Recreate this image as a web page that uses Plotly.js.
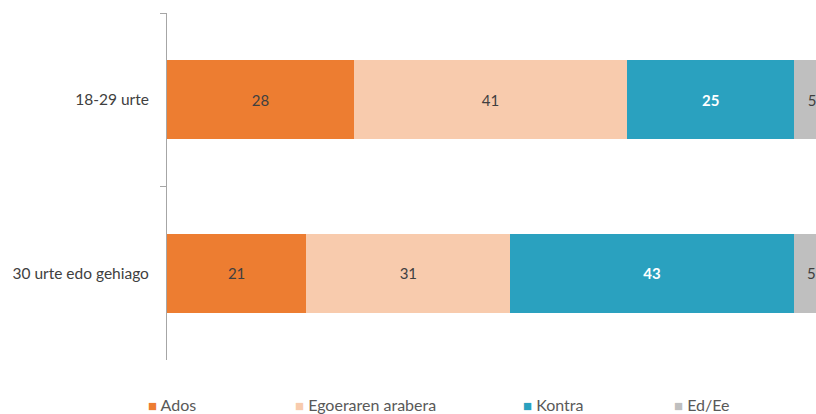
<!DOCTYPE html>
<html><head><meta charset="utf-8">
<script src="https://cdn.plot.ly/plotly-3.0.1.min.js"></script>
<style>html,body{margin:0;padding:0;background:#fff;overflow:hidden}</style>
</head><body><div id="chart" style="width:816px;height:414px"></div>
<script>
const categories = ["18-29 urte", "30 urte edo gehiago"];
const seriesNames = ["Ados", "Egoeraren arabera", "Kontra", "Ed/Ee"];
const ados = [28.2, 21.0];
const egoeraren = [41.2, 30.8];
const kontra = [25.2, 42.7];
const edee = [5.4, 5.4];

const seriesValues = [ados, egoeraren, kontra, edee];
const colors = ["#ED7D31", "#F8CBAD", "#2AA1BF", "#BFBFBF"];
const textColors = ["#404040", "#404040", "#FFFFFF", "#404040"];
const textWeights = ["normal", "normal", "bold", "normal"];
const legendIds = ["legend", "legend2", "legend3", "legend4"];
const legendX = [150, 297, 525, 676];

const FONT = "Lato, 'Open Sans', sans-serif";
const plotL = 167, plotR = 816;
const pw = plotR - plotL;

const traces = [];
seriesNames.forEach((n, i) => {
  traces.push({
    type: "bar", orientation: "h",
    x: seriesValues[i], y: categories, name: n,
    marker: {color: colors[i], line: {width: 0}},
    width: 0.455,
    texttemplate: "%{x:.0f}", textposition: "inside", insidetextanchor: "middle",
    textangle: 0, constraintext: "none",
    textfont: {family: FONT, size: 15, color: textColors[i], weight: textWeights[i]},
    showlegend: false, hoverinfo: "skip"
  });
});
seriesNames.forEach((n, i) => {
  traces.push({
    type: "scatter", mode: "markers", x: [null], y: [null],
    name: '<span style="color:' + colors[i] + ';font-size:15px">■</span> ' + n,
    marker: {opacity: 0, color: "#fff"},
    legend: legendIds[i], showlegend: true, hoverinfo: "skip"
  });
});

const layout = {
  width: 816, height: 414,
  margin: {l: plotL, r: 0, t: 13, b: 54, autoexpand: false},
  paper_bgcolor: "#fff", plot_bgcolor: "#fff",
  barmode: "stack",
  font: {family: FONT, size: 15, color: "#404040"},
  xaxis: {range: [0, pw / 6.63], visible: false, fixedrange: true},
  yaxis: {
    type: "category", categoryorder: "array", categoryarray: categories,
    autorange: "reversed", automargin: false,
    showline: true, linecolor: "#A6A6A6", linewidth: 1,
    ticks: "outside", tickson: "boundaries", ticklen: 6, tickcolor: "#A6A6A6",
    showgrid: false, zeroline: false,
    tickfont: {family: FONT, size: 15.5, color: "#404040"},
    ticklabelstandoff: 14
  },
  showlegend: true
};
legendIds.forEach((id, i) => {
  layout[id] = {
    x: (legendX[i] - 42 - plotL) / pw, xanchor: "left",
    y: -(405 - 360) / 347, yanchor: "middle",
    orientation: "h", bgcolor: "rgba(0,0,0,0)",
    font: {family: FONT, size: 16, color: "#595959"},
    itemwidth: 30
  };
});

Plotly.newPlot("chart", traces, layout, {displayModeBar: false, staticPlot: true});
</script></body></html>
